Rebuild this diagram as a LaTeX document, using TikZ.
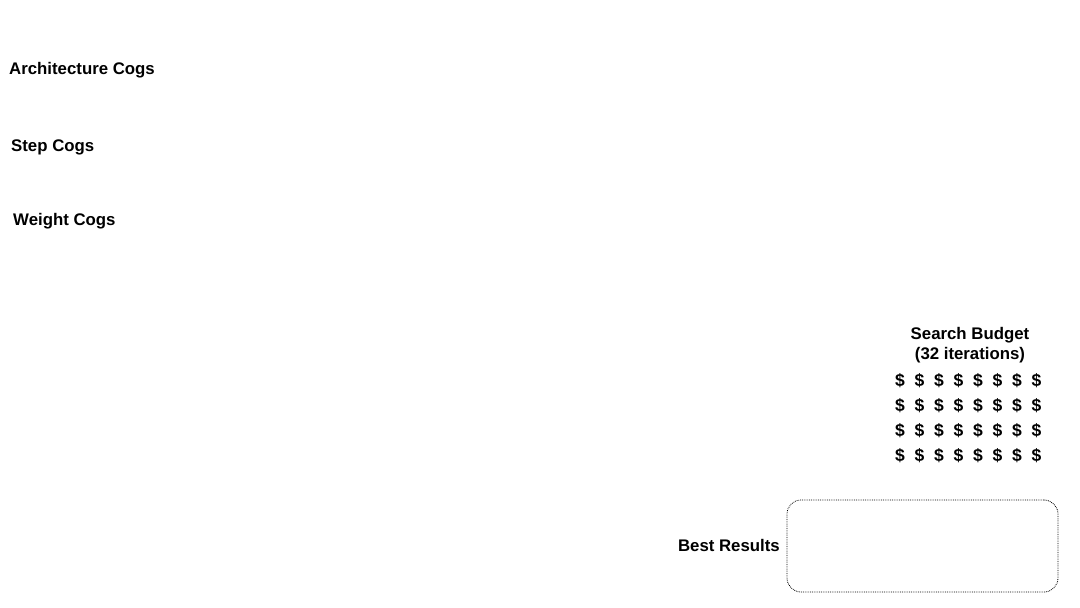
\documentclass[tikz,border=0pt]{standalone}
\usepackage{fontspec}
\setmainfont{Liberation Sans}
\begin{document}
\begin{tikzpicture}[x=1pt,y=-1pt,
  lbl/.style={font=\fontsize{16.8}{20}\selectfont\bfseries, inner sep=0pt},
  dollar/.style={font=\fontsize{17.5}{20}\selectfont\bfseries, inner sep=0pt},
  resultbox/.style={draw, densely dotted, line width=0.8pt, rounded corners=14pt}]
\useasboundingbox (0,0) rectangle (1080,608);
\node[lbl, anchor=west] (arch) at (9,70) {Architecture Cogs};
\node[lbl, anchor=west] (step) at (11,147) {Step Cogs};
\node[lbl, anchor=west] (weight) at (13,221) {Weight Cogs};
\node[lbl, align=center] (budget) at (970,345) {Search Budget\\(32 iterations)};
\foreach \r [count=\ri] in {381,406,431,456}{
  \foreach \c [count=\ci] in {900,919.5,939,958.5,978,997.5,1017,1036.5}{
    \node[dollar] (d\ri-\ci) at (\c,\r) {\$};
  }
}
\node[resultbox, minimum width=271pt, minimum height=92pt] (box) at (922.5,546) {};
\node[lbl, anchor=east] (best) at (780,545) {Best Results};
\end{tikzpicture}
\end{document}
